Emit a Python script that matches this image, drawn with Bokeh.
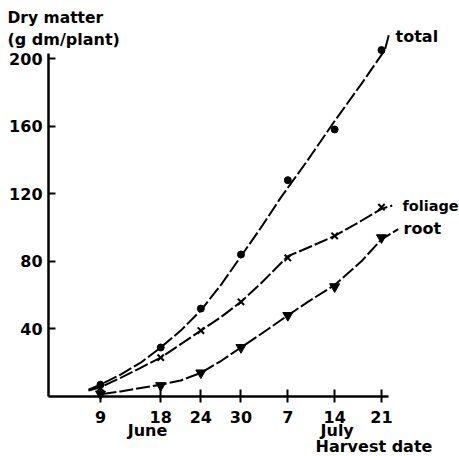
from bokeh.plotting import figure
from bokeh.models import Range1d, FixedTicker, Label
from bokeh.embed import file_html
from bokeh.resources import INLINE

# harvest dates as day numbers (June 9 = 9, July 7 = 37 ...)
days = [9, 18, 24, 30, 37, 44, 51]
tick_labels = ["9", "18", "24", "30", "7", "14", "21"]
y_ticks = [40, 80, 120, 160, 200]

total = [7, 29, 52, 84, 128, 158, 205]
foliage = [5, 23, 39, 56, 82, 95, 112]
root = [1.5, 6.5, 14, 29, 48, 65, 94]

# fitted curves
total_curve_x = [7.2, 9, 12, 15, 18, 21, 24, 27, 30, 33, 36, 40, 44, 48, 51.5, 52.1]
total_curve_y = [4, 7, 13, 20, 29, 39, 51, 66, 83, 100, 118, 140, 163, 185, 205, 214]
foliage_curve_x = [7.2, 9, 12, 15, 18, 21, 24, 27, 30, 33, 37, 40, 44, 48, 51, 52.6]
foliage_curve_y = [3.5, 5.5, 11, 17, 23, 31, 39, 47, 56, 67, 83, 88, 95, 104, 111, 113]
root_curve_x = [9.3, 12, 15, 18, 21, 24, 27, 30, 33, 37, 40, 44, 48, 51, 53.5]
root_curve_y = [1.5, 3, 5, 7, 9.5, 14, 21, 29, 37, 48, 56, 66, 80, 93, 99]

FONT = "DejaVu Sans"

p = figure(width=459, height=456, output_backend="svg", toolbar_location=None,
           x_range=Range1d(-5.947, 62.66), y_range=Range1d(-35.5, 234.32),
           min_border_left=0, min_border_right=0, min_border_top=0, min_border_bottom=0)
p.outline_line_color = None
p.xgrid.visible = False
p.ygrid.visible = False
p.background_fill_color = "white"

dash = "14 3"
p.line(total_curve_x, total_curve_y, line_color="black", line_width=2, line_dash=dash)
p.line(foliage_curve_x, foliage_curve_y, line_color="black", line_width=2, line_dash=dash)
p.line(root_curve_x, root_curve_y, line_color="black", line_width=2, line_dash=dash)

p.scatter(days, total, marker="circle", size=7, color="black")
p.scatter(days, foliage, marker="x", size=9, line_color="black", line_width=2)
p.scatter(days, root, marker="inverted_triangle", size=10, color="black")

xa = p.xaxis[0]
xa.fixed_location = 0
xa.bounds = (1.23, 52.05)
xa.ticker = FixedTicker(ticks=days)
xa.major_label_overrides = {d: t for d, t in zip(days, tick_labels)}
ya = p.yaxis[0]
ya.fixed_location = 1.23
ya.bounds = (0, 203)
ya.ticker = FixedTicker(ticks=y_ticks)
for ax in (xa, ya):
    ax.axis_line_width = 2.5
    ax.axis_line_color = "black"
    ax.major_tick_line_width = 2
    ax.major_tick_line_color = "black"
    ax.minor_tick_line_color = None
    ax.major_label_text_font = FONT
    ax.major_label_text_font_style = "bold"
    ax.major_label_text_font_size = "16px"
    ax.major_label_text_color = "black"
xa.major_tick_in = 7
xa.major_tick_out = 6
xa.major_label_standoff = 8
ya.major_tick_in = 7
ya.major_tick_out = 0
ya.major_label_standoff = 6

def lab(x, y, text, align="left", size="16px"):
    p.add_layout(Label(x=x, y=y, text=text,
                       text_font=FONT, text_font_style="bold",
                       text_font_size=size, text_align=align, text_baseline="middle",
                       text_color="black"))

lab(53.1, 213.0, "total")
lab(54.14, 113.0, "foliage", size="14.5px")
lab(54.29, 99.4, "root")
lab(16.03, -20.1, "June", align="center")
lab(41.89, -20.1, "July")
lab(41.14, -29.6, "Harvest date")
lab(-4.90, 223.7, "Dry matter", size="15.5px")
lab(-4.90, 211.2, "(g dm/plant)")

open("out.html", "w").write(file_html(p, INLINE))
